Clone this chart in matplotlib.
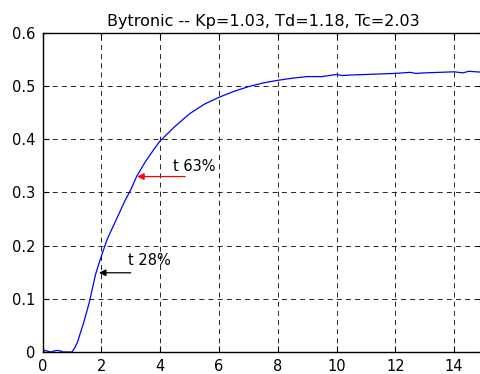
import numpy as np
import matplotlib.pyplot as plt

plt.rcParams['font.family'] = ['DejaVu Sans']

# step response
t = [0, 0.1, 0.2, 0.3, 0.4, 0.5, 0.6, 0.7, 0.8, 0.9, 1.0, 1.1, 1.2, 1.3, 1.4,
     1.5, 1.6, 1.7, 1.8, 1.9, 2.0, 2.2, 2.5, 2.8, 3.0, 3.2, 3.5, 3.8, 4.0,
     4.5, 5.0, 5.5, 6.0, 6.5, 7.0, 7.5, 8.0, 8.5, 9.0, 9.5, 10.0, 10.2, 10.5,
     11.0, 11.5, 12.0, 12.5, 12.7, 13.0, 13.5, 14.0, 14.3, 14.5, 15.0]
y = [0, 0.003, 0.001, 0, 0.002, 0.003, 0.002, 0, 0, 0, 0, 0.008, 0.02, 0.038,
     0.055, 0.075, 0.095, 0.12, 0.145, 0.163, 0.18, 0.212, 0.248, 0.284,
     0.305, 0.33, 0.358, 0.382, 0.397, 0.424, 0.448, 0.466, 0.479, 0.49,
     0.499, 0.506, 0.511, 0.515, 0.518, 0.518, 0.522, 0.520, 0.521, 0.522,
     0.523, 0.524, 0.526, 0.524, 0.525, 0.526, 0.527, 0.525, 0.528, 0.526]

title = "Bytronic -- Kp=1.03, Td=1.18, Tc=2.03"
x_ticks = [0, 2, 4, 6, 8, 10, 12, 14]
y_ticks = [0, 0.1, 0.2, 0.3, 0.4, 0.5, 0.6]
y_labels = ["0", "0.1", "0.2", "0.3", "0.4", "0.5", "0.6"]

# markers: (label, tip_t, tip_y, tail_t, text_t, text_y, colour)
marks = [("t 63%", 3.22, 0.33, 4.85, 4.45, 0.348, "red"),
         ("t 28%", 1.92, 0.149, 3.0, 2.9, 0.173, "black")]

fig = plt.figure(figsize=(4.81, 3.74), dpi=100)
ax = fig.add_axes([42.5 / 481, 22 / 374, 441 / 481, 319 / 374])

ax.plot(t, y, color="blue", lw=0.9)

for label, tx, ty, tail, lx, ly, col in marks:
    ax.annotate("", xy=(tx, ty), xytext=(tail, ty),
                arrowprops=dict(arrowstyle="-|>", color=col, lw=0.9,
                                mutation_scale=10, shrinkA=0, shrinkB=0))
    ax.text(lx, ly, label, fontsize=10.5, va="center", ha="left")

ax.set_xlim(0, 15)
ax.set_ylim(0, 0.6)
ax.set_xticks(x_ticks)
ax.set_yticks(y_ticks)
ax.set_yticklabels(y_labels)
ax.tick_params(direction="in", length=4, top=True, right=True, labelsize=10.5,
               width=0.8, pad=5)
ax.grid(True, color="black", linestyle=(0, (6, 5)), lw=0.6)
for s in ax.spines.values():
    s.set_linewidth(1.0)
ax.set_title(title, fontsize=11.5, pad=5)

fig.savefig("out.png", dpi=100)
